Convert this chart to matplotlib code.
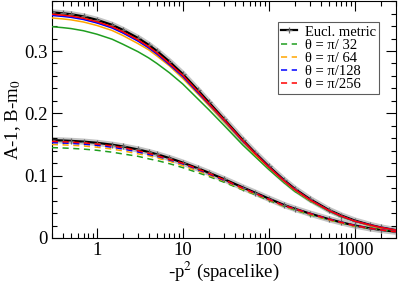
import matplotlib
matplotlib.use("Agg")
import matplotlib.pyplot as plt
from matplotlib.ticker import MultipleLocator, LogLocator, NullFormatter, FixedLocator

plt.rcParams['font.family'] = ['Liberation Serif', 'DejaVu Serif']
plt.rcParams['mathtext.fontset'] = 'stix'

p2 = [0.3, 0.4, 0.5, 0.7, 1, 1.5, 2, 3, 4, 5, 7, 10, 15, 20, 30, 50, 70, 100,
      150, 200, 300, 500, 700, 1000, 1500, 2000, 3000]

# A-1 (solid)
A_eucl = [.362, .3605, .359, .3555, .350, .342, .334, .321, .310, .300, .283, .263, .237, .218, .191, .157, .136, .115, .093, .079, .0625, .045, .036, .028, .021, .017, .0126]
A_256  = [.359, .3575, .356, .3525, .347, .339, .331, .318, .307, .297, .280, .261, .235, .216, .190, .156, .135, .114, .092, .078, .0615, .044, .035, .027, .021, .017, .0126]
A_128  = [.357, .3555, .354, .3505, .345, .337, .329, .316, .305, .295, .278, .259, .233, .215, .189, .155, .135, .114, .092, .078, .0615, .044, .035, .027, .021, .017, .0126]
A_64   = [.353, .3515, .350, .3465, .341, .333, .325, .312, .302, .292, .276, .256, .231, .213, .187, .154, .133, .113, .091, .077, .0605, .044, .035, .027, .020, .016, .0126]
A_32   = [.339, .3375, .336, .3325, .327, .319, .311, .299, .289, .280, .265, .247, .223, .206, .181, .149, .130, .110, .089, .075, .0595, .043, .034, .027, .020, .016, .0116]

# B-m0 (dashed)
B_eucl = [.157, .1564, .1558, .1546, .1527, .1497, .1469, .1421, .1380, .1343, .1282, .1209, .1117, .1048, .0946, .0810, .0725, .0632, .0530, .0470, .0392, .0302, .0250, .0200, .0155, .0130, .0100]
B_256  = [.155, .1544, .1538, .1526, .1507, .1477, .1449, .1401, .1360, .1323, .1262, .1199, .1107, .1038, .0936, .0800, .0715, .0622, .0520, .0470, .0392, .0302, .0250, .0200, .0155, .0130, .0100]
B_128  = [.153, .1524, .1518, .1506, .1487, .1457, .1429, .1381, .1340, .1313, .1252, .1189, .1097, .1028, .0926, .0800, .0715, .0622, .0520, .0470, .0392, .0302, .0250, .0200, .0155, .0130, .0100]
B_64   = [.150, .1494, .1488, .1476, .1457, .1427, .1399, .1351, .1320, .1283, .1232, .1159, .1077, .1008, .0916, .0780, .0705, .0612, .0510, .0460, .0382, .0292, .0240, .0190, .0155, .0130, .0100]
B_32   = [.145, .1444, .1438, .1426, .1407, .1377, .1349, .1311, .1270, .1243, .1192, .1129, .1047, .0988, .0896, .0770, .0695, .0602, .0510, .0450, .0372, .0292, .0240, .0190, .0155, .0130, .0100]

labels = ["θ = π/ 32", "θ = π/ 64", "θ = π/128", "θ = π/256"]
colors = ["#1f9e1f", "#ffa500", "#0000ff", "#ff0000"]
A_theta = [A_32, A_64, A_128, A_256]
B_theta = [B_32, B_64, B_128, B_256]

fig = plt.figure(figsize=(3.99, 2.84), dpi=100)
ax = fig.add_axes([0.130, 0.162, 0.862, 0.834])

lw = 1.1
for Y in (A_eucl, B_eucl):
    ax.plot(p2, Y, color='#c4c4c4', lw=4.5, solid_capstyle='butt', zorder=1)
ax.plot(p2, A_eucl, color='black', lw=1.6, marker='+', ms=5, mec='#666666', mew=0.9, zorder=2)
h_e, = ax.plot(p2, B_eucl, color='black', lw=1.6, marker='+', ms=5, mec='#666666', mew=0.9, zorder=2,
               label='Eucl. metric')
handles = [h_e]
for A, B, c, lab in zip(A_theta, B_theta, colors, labels):
    ax.plot(p2, A, color=c, lw=lw, zorder=3)
    h, = ax.plot(p2, B, color=c, lw=lw, ls=(0, (4, 3)), zorder=3, label=lab)
    handles.append(h)

ax.set_xscale('log')
ax.set_xlim(0.3, 3000)
ax.set_ylim(0, 0.38)
ax.xaxis.set_major_locator(FixedLocator([1, 10, 100, 1000]))
ax.set_xticklabels(['1', '10', '100', '1000'])
ax.xaxis.set_minor_locator(LogLocator(base=10, subs=range(2, 10), numticks=20))
ax.xaxis.set_minor_formatter(NullFormatter())
ax.yaxis.set_major_locator(FixedLocator([0, 0.1, 0.2, 0.3]))
ax.set_yticklabels(['0', '0.1', '0.2', '0.3'])
ax.yaxis.set_minor_locator(MultipleLocator(0.02))

ax.tick_params(which='both', direction='in', top=True, right=True, labelsize=13.5, width=0.8)
ax.tick_params(which='major', length=7, pad=3)
ax.tick_params(which='minor', length=3.5)

ax.set_xlabel('-p$^2$ (spacelike)', fontsize=13.5, labelpad=0)
ax.set_ylabel('A-1, B-m$_0$', fontsize=13.5, labelpad=1)

leg = ax.legend(handles=handles, loc='upper right', bbox_to_anchor=(0.95, 0.91),
                fontsize=10.5, frameon=True, fancybox=False, handlelength=1.1,
                handletextpad=0.5, borderpad=0.2, labelspacing=0.0, borderaxespad=0.0)
leg.get_frame().set_edgecolor('#333333')
leg.get_frame().set_linewidth(0.8)

fig.savefig('out.png', dpi=100)
